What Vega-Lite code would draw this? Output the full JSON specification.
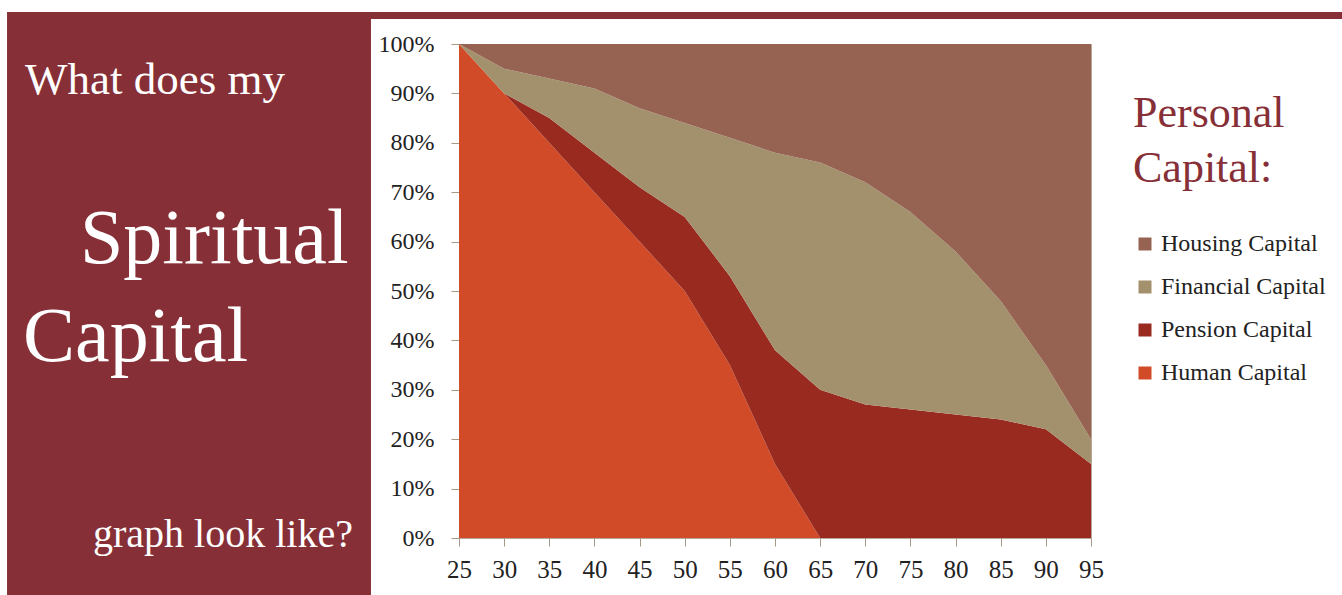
{
  "$schema": "https://vega.github.io/schema/vega-lite/v6.json",
  "width": 632,
  "height": 494,
  "autosize": {"type": "none"},
  "padding": {"left": 459, "top": 44, "right": 251, "bottom": 57},
  "background": "white",
  "datasets": {
    "capital": [
      {"age": 25, "series": "Human Capital", "stack": 1, "value": 100},
      {"age": 30, "series": "Human Capital", "stack": 1, "value": 90},
      {"age": 35, "series": "Human Capital", "stack": 1, "value": 80},
      {"age": 40, "series": "Human Capital", "stack": 1, "value": 70},
      {"age": 45, "series": "Human Capital", "stack": 1, "value": 60},
      {"age": 50, "series": "Human Capital", "stack": 1, "value": 50},
      {"age": 55, "series": "Human Capital", "stack": 1, "value": 35},
      {"age": 60, "series": "Human Capital", "stack": 1, "value": 15},
      {"age": 65, "series": "Human Capital", "stack": 1, "value": 0},
      {"age": 70, "series": "Human Capital", "stack": 1, "value": 0},
      {"age": 75, "series": "Human Capital", "stack": 1, "value": 0},
      {"age": 80, "series": "Human Capital", "stack": 1, "value": 0},
      {"age": 85, "series": "Human Capital", "stack": 1, "value": 0},
      {"age": 90, "series": "Human Capital", "stack": 1, "value": 0},
      {"age": 95, "series": "Human Capital", "stack": 1, "value": 0},
      {"age": 25, "series": "Pension Capital", "stack": 2, "value": 0},
      {"age": 30, "series": "Pension Capital", "stack": 2, "value": 0},
      {"age": 35, "series": "Pension Capital", "stack": 2, "value": 5},
      {"age": 40, "series": "Pension Capital", "stack": 2, "value": 8},
      {"age": 45, "series": "Pension Capital", "stack": 2, "value": 11},
      {"age": 50, "series": "Pension Capital", "stack": 2, "value": 15},
      {"age": 55, "series": "Pension Capital", "stack": 2, "value": 18},
      {"age": 60, "series": "Pension Capital", "stack": 2, "value": 23},
      {"age": 65, "series": "Pension Capital", "stack": 2, "value": 30},
      {"age": 70, "series": "Pension Capital", "stack": 2, "value": 27},
      {"age": 75, "series": "Pension Capital", "stack": 2, "value": 26},
      {"age": 80, "series": "Pension Capital", "stack": 2, "value": 25},
      {"age": 85, "series": "Pension Capital", "stack": 2, "value": 24},
      {"age": 90, "series": "Pension Capital", "stack": 2, "value": 22},
      {"age": 95, "series": "Pension Capital", "stack": 2, "value": 15},
      {"age": 25, "series": "Financial Capital", "stack": 3, "value": 0},
      {"age": 30, "series": "Financial Capital", "stack": 3, "value": 5},
      {"age": 35, "series": "Financial Capital", "stack": 3, "value": 8},
      {"age": 40, "series": "Financial Capital", "stack": 3, "value": 13},
      {"age": 45, "series": "Financial Capital", "stack": 3, "value": 16},
      {"age": 50, "series": "Financial Capital", "stack": 3, "value": 19},
      {"age": 55, "series": "Financial Capital", "stack": 3, "value": 28},
      {"age": 60, "series": "Financial Capital", "stack": 3, "value": 40},
      {"age": 65, "series": "Financial Capital", "stack": 3, "value": 46},
      {"age": 70, "series": "Financial Capital", "stack": 3, "value": 45},
      {"age": 75, "series": "Financial Capital", "stack": 3, "value": 40},
      {"age": 80, "series": "Financial Capital", "stack": 3, "value": 33},
      {"age": 85, "series": "Financial Capital", "stack": 3, "value": 24},
      {"age": 90, "series": "Financial Capital", "stack": 3, "value": 13},
      {"age": 95, "series": "Financial Capital", "stack": 3, "value": 5},
      {"age": 25, "series": "Housing Capital", "stack": 4, "value": 0},
      {"age": 30, "series": "Housing Capital", "stack": 4, "value": 5},
      {"age": 35, "series": "Housing Capital", "stack": 4, "value": 7},
      {"age": 40, "series": "Housing Capital", "stack": 4, "value": 9},
      {"age": 45, "series": "Housing Capital", "stack": 4, "value": 13},
      {"age": 50, "series": "Housing Capital", "stack": 4, "value": 16},
      {"age": 55, "series": "Housing Capital", "stack": 4, "value": 19},
      {"age": 60, "series": "Housing Capital", "stack": 4, "value": 22},
      {"age": 65, "series": "Housing Capital", "stack": 4, "value": 24},
      {"age": 70, "series": "Housing Capital", "stack": 4, "value": 28},
      {"age": 75, "series": "Housing Capital", "stack": 4, "value": 34},
      {"age": 80, "series": "Housing Capital", "stack": 4, "value": 42},
      {"age": 85, "series": "Housing Capital", "stack": 4, "value": 52},
      {"age": 90, "series": "Housing Capital", "stack": 4, "value": 65},
      {"age": 95, "series": "Housing Capital", "stack": 4, "value": 80}
    ]
  },
  "layer": [
    {
      "data": {"name": "capital"},
      "mark": {"type": "area", "interpolate": "linear", "opacity": 1},
      "encoding": {
        "x": {
          "field": "age", "type": "quantitative", "title": null,
          "scale": {"domain": [25, 95], "nice": false, "zero": false},
          "axis": {"values": [25, 30, 35, 40, 45, 50, 55, 60, 65, 70, 75, 80, 85, 90, 95], "labelPadding": 11, "labelAngle": 0, "labelFlush": false, "labelFontSize": 25}
        },
        "y": {
          "field": "value", "type": "quantitative", "stack": "zero", "title": null,
          "scale": {"domain": [0, 100], "nice": false},
          "axis": {"values": [0, 10, 20, 30, 40, 50, 60, 70, 80, 90, 100], "labelExpr": "datum.value + '%'", "labelPadding": 17, "labelFlush": false, "labelFontSize": 24}
        },
        "color": {
          "field": "series", "type": "nominal", "title": ["Personal", "Capital:"],
          "scale": {
            "domain": ["Housing Capital", "Financial Capital", "Pension Capital", "Human Capital"],
            "range": ["#966352", "#a3906c", "#992a20", "#d24b28"]
          }
        },
        "order": {"field": "stack", "type": "quantitative", "sort": "ascending"}
      }
    },
    {
      "data": {"values": [{}]},
      "mark": {"type": "rect", "color": "#872f37"},
      "encoding": {
        "x": {"datum": -25.06, "type": "quantitative", "title": null},
        "x2": {"datum": 15.25},
        "y": {"datum": 106.48, "type": "quantitative", "title": null},
        "y2": {"datum": -11.54}
      }
    },
    {
      "data": {"values": [{}]},
      "mark": {"type": "rect", "color": "#872f37"},
      "encoding": {
        "x": {"datum": 15.25, "type": "quantitative", "title": null},
        "x2": {"datum": 122.8},
        "y": {"datum": 106.48, "type": "quantitative", "title": null},
        "y2": {"datum": 105.06}
      }
    },
    {
      "data": {"values": [{}]},
      "mark": {"type": "text", "text": "What does my", "font": "Liberation Serif", "fontSize": 45, "color": "white", "align": "left", "baseline": "alphabetic"},
      "encoding": {
        "x": {"datum": -23.07, "type": "quantitative", "title": null},
        "y": {"datum": 89.88, "type": "quantitative", "title": null}
      }
    },
    {
      "data": {"values": [{}]},
      "mark": {"type": "text", "text": "Spiritual", "font": "Liberation Serif", "fontSize": 78, "color": "white", "align": "left", "baseline": "alphabetic"},
      "encoding": {
        "x": {"datum": -16.98, "type": "quantitative", "title": null},
        "y": {"datum": 55.67, "type": "quantitative", "title": null}
      }
    },
    {
      "data": {"values": [{}]},
      "mark": {"type": "text", "text": "Capital", "font": "Liberation Serif", "fontSize": 78, "color": "white", "align": "left", "baseline": "alphabetic"},
      "encoding": {
        "x": {"datum": -23.29, "type": "quantitative", "title": null},
        "y": {"datum": 35.83, "type": "quantitative", "title": null}
      }
    },
    {
      "data": {"values": [{}]},
      "mark": {"type": "text", "text": "graph look like?", "font": "Liberation Serif", "fontSize": 40, "color": "white", "align": "left", "baseline": "alphabetic"},
      "encoding": {
        "x": {"datum": -15.54, "type": "quantitative", "title": null},
        "y": {"datum": -1.82, "type": "quantitative", "title": null}
      }
    }
  ],
  "config": {
    "view": {"stroke": "#b8a699", "strokeWidth": 1},
    "axis": {
      "labelFont": "Liberation Serif",
      "labelFontSize": 24,
      "labelColor": "#222222",
      "tickColor": "#a89888",
      "tickSize": 8,
      "domain": false,
      "grid": false
    },
    "legend": {
      "orient": "none",
      "legendX": 674,
      "legendY": 48,
      "titleFont": "Liberation Serif",
      "titleFontSize": 44,
      "titleFontWeight": "normal",
      "titleColor": "#872f37",
      "titleLineHeight": 55,
      "titlePadding": 41,
      "labelFont": "Liberation Serif",
      "labelFontSize": 24,
      "labelColor": "#222222",
      "labelOffset": 4,
      "symbolType": "square",
      "symbolSize": 169,
      "symbolStrokeWidth": 0,
      "symbolOpacity": 1,
      "rowPadding": 19,
      "labelLimit": 400
    }
  }
}
